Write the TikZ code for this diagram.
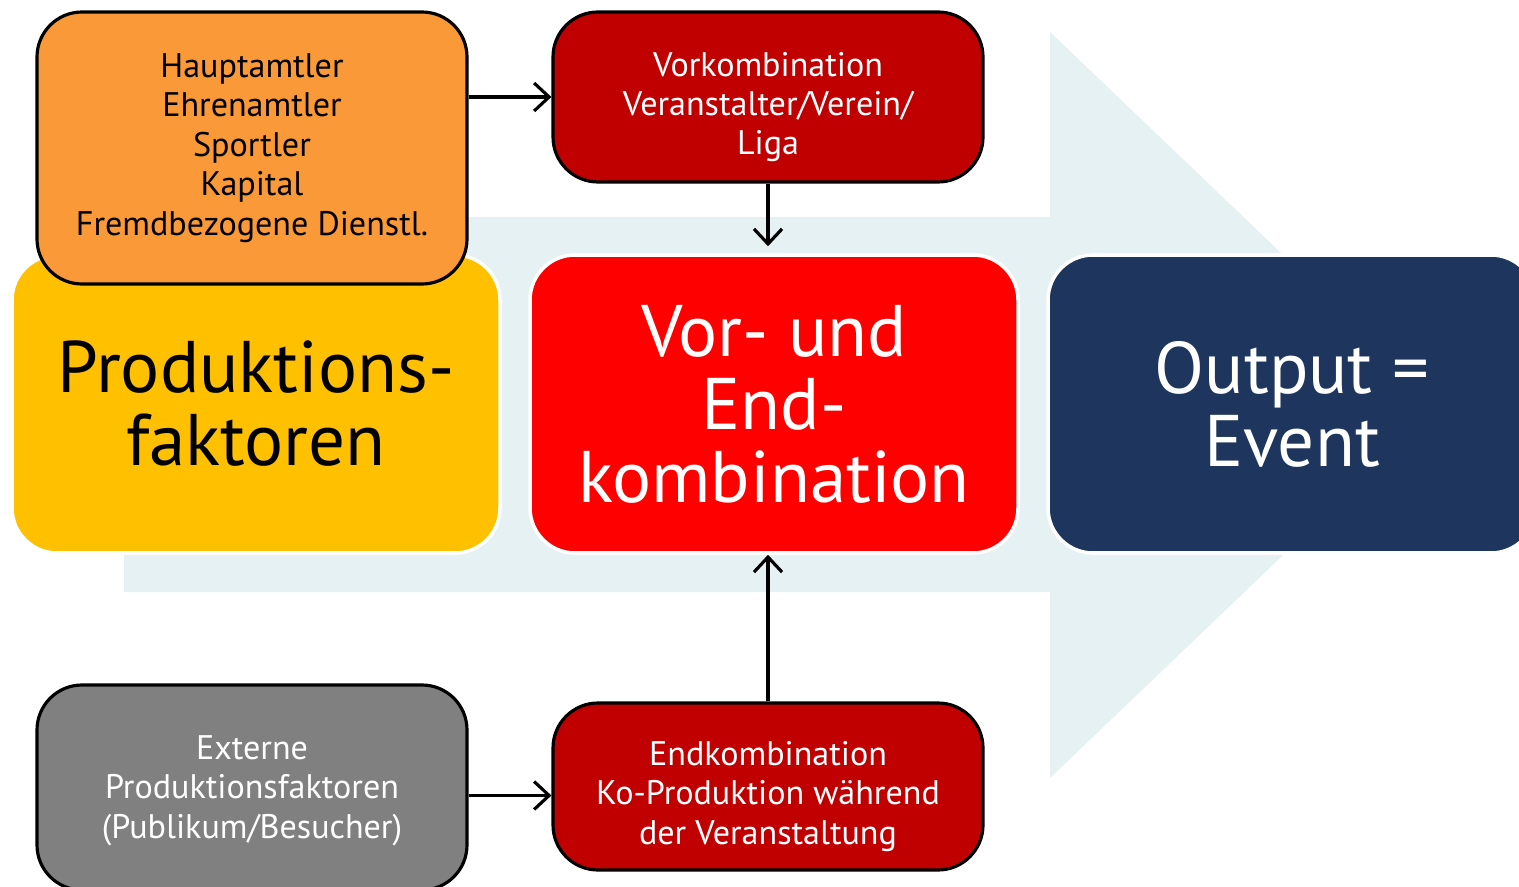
\documentclass[tikz,border=0pt]{standalone}
\usepackage{fontspec}
\setmainfont{PT Sans}
\usetikzlibrary{arrows.meta}

\definecolor{pfeilblau}{HTML}{E5F1F3}
\definecolor{faktorgelb}{HTML}{FFC000}
\definecolor{kombirot}{HTML}{FF0000}
\definecolor{eventblau}{HTML}{1E365E}
\definecolor{orangefeld}{HTML}{FA9937}
\definecolor{dunkelrot}{HTML}{C00000}
\definecolor{grau}{HTML}{808080}

\begin{document}
\begin{tikzpicture}[
    bigbox/.style={draw=white, line width=1pt, rounded corners=0.45cm,
      minimum width=4.88cm, minimum height=2.98cm, inner sep=0pt,
      align=center, font=\fontsize{20.8}{20.8}\selectfont},
    smallbox/.style={draw=black, line width=0.9pt, rounded corners=0.45cm,
      minimum width=4.30cm, inner sep=0pt, align=center,
      font=\fontsize{9.7}{11.2}\selectfont},
    boxtext/.style={inner sep=0pt, align=center, font=\fontsize{9.7}{11.2}\selectfont},
    pfeil/.style={-{Straight Barb[length=1.5mm,width=2.8mm]}, line width=0.9pt}
  ]
    \useasboundingbox (0,0) rectangle (15.19,8.86);

    % Background arrow
    \fill[pfeilblau] (1.24,6.69) -- (10.50,6.69) -- (10.50,8.54) -- (14.40,4.81)
      -- (10.50,1.08) -- (10.50,2.94) -- (1.24,2.94) -- cycle;

    % Main row
    \node[bigbox, fill=faktorgelb, text=black] (faktoren) at (2.56,4.82) {Produktions-\\faktoren};
    \node[bigbox, fill=kombirot, text=white] (kombi) at (7.74,4.82) {Vor- und\\End-\\kombination};
    \node[bigbox, fill=eventblau, text=white] (event) at (12.92,4.82) {Output =\\Event};

    % Top row
    \node[smallbox, fill=orangefeld, text=black, minimum height=2.72cm] (faktorliste) at (2.52,7.38)
      {Hauptamtler\\Ehrenamtler\\Sportler\\Kapital\\Fremdbezogene Dienstl.};
    \node[smallbox, fill=dunkelrot, minimum height=1.70cm] (vorkombi) at (7.68,7.89) {};
    \node[boxtext, text=white] (vorkombitext) at ([yshift=-0.1cm]vorkombi.center)
      {Vorkombination\\Veranstalter/Verein/\\Liga};

    % Bottom row
    \node[smallbox, fill=grau, minimum height=2.05cm] (extern) at (2.52,0.985) {};
    \node[boxtext, text=white] (externtext) at ([yshift=-0.03cm]extern.center)
      {Externe\\Produktionsfaktoren\\(Publikum/Besucher)};
    \node[smallbox, fill=dunkelrot, minimum height=1.67cm] (endkombi) at (7.68,0.995) {};
    \node[boxtext, text=white] (endkombitext) at ([yshift=-0.1cm]endkombi.center)
      {Endkombination\\Ko-Produktion während\\der Veranstaltung};

    % Arrows
    \draw[pfeil] (vorkombi.west -| faktorliste.east) -- (vorkombi.west);
    \draw[pfeil] (vorkombi.south) -- ([yshift=0.07cm]vorkombi.south |- kombi.north);
    \draw[pfeil] (endkombi.north) -- (endkombi.north |- kombi.south);
    \draw[pfeil] ([yshift=-0.08cm]extern.east) -- ([yshift=-0.08cm]extern.east -| endkombi.west);
  \end{tikzpicture}
\end{document}
